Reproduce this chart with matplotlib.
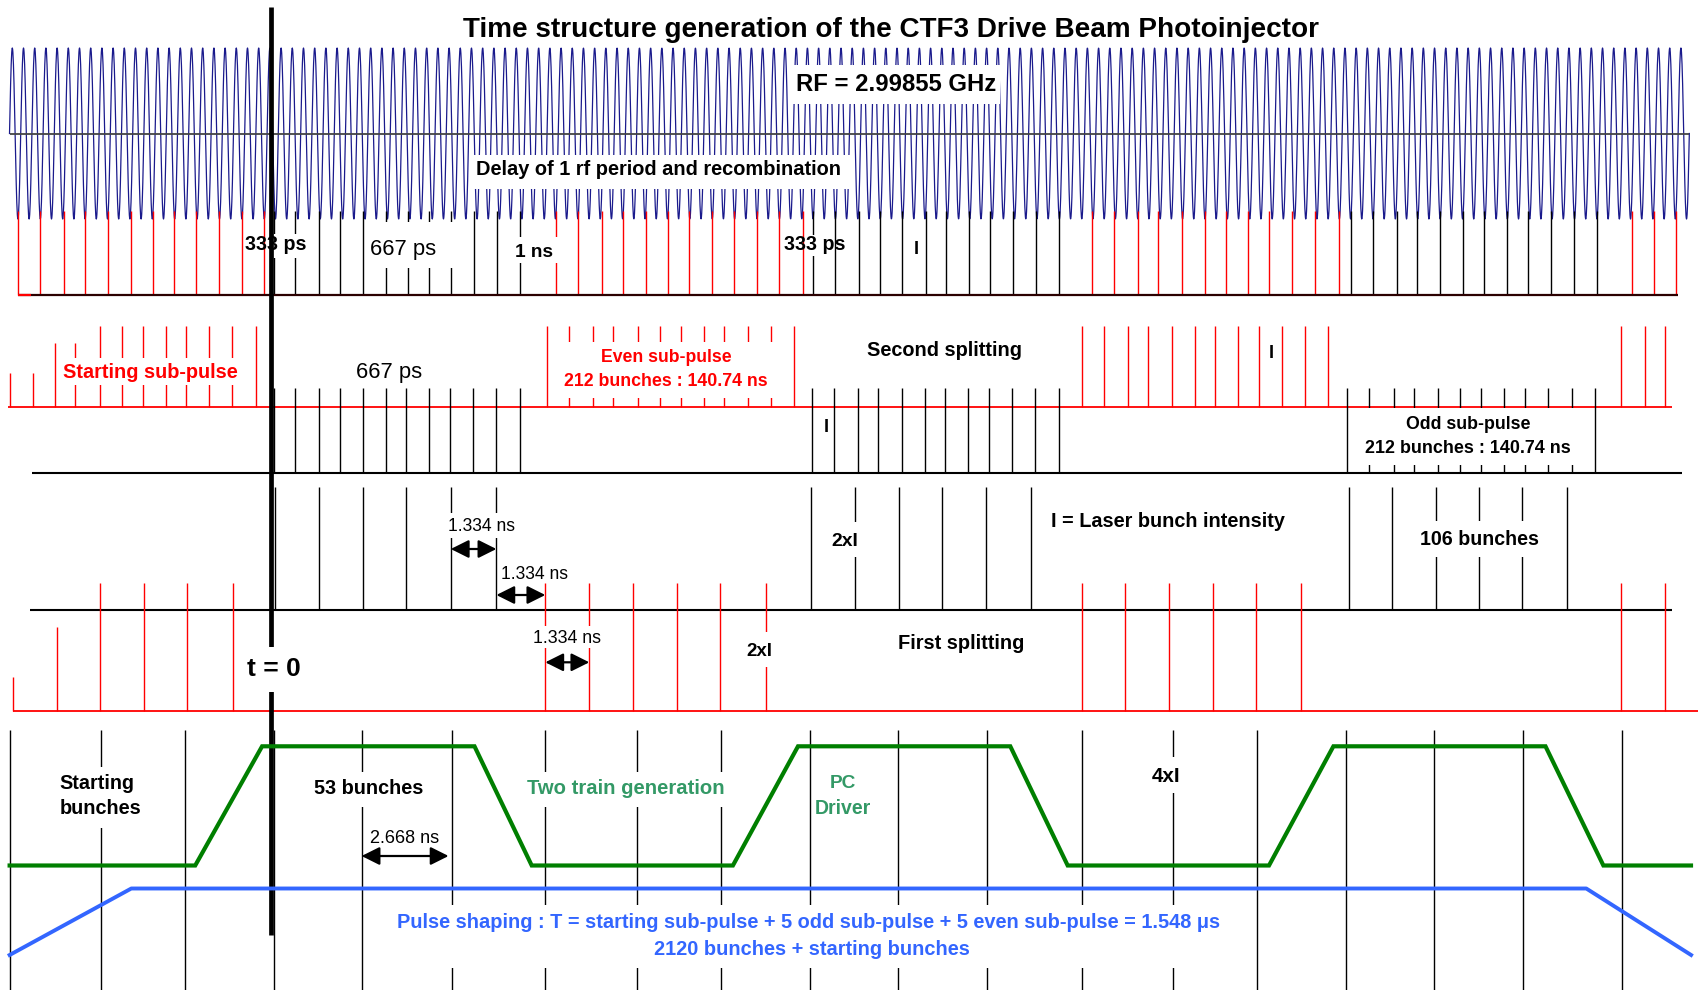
import numpy as np
import matplotlib
matplotlib.use("Agg")
import matplotlib.pyplot as plt
from matplotlib.patches import Rectangle

# ---------------------------------------------------------------- data ------
# all times in ns, t = 0 at the thick marker line
RF_FREQ_GHZ = 2.99855
RF_PERIODS_SHOWN = 150
RF_START_NS = -7.787

# row 1 : after delay of 1 rf period and recombination
R1_RED = [
    [-7.537, -6.873, -6.167, -5.551, -4.845, -4.160, -3.523, -2.886, -2.236, -1.552, -0.873, -0.200],
    [8.478, 9.139, 9.857, 10.473, 11.158, 11.828, 12.457, 13.142, 13.779, 14.461, 15.137, 15.828],
    [24.446, 25.110, 25.819, 26.414, 27.117, 27.811, 28.436, 29.095, 29.729, 30.411, 31.093, 31.796],
    [40.530, 41.200, 41.837],
]
R1_BLACK = [
    [0.089, 0.727, 1.444, 2.049, 2.734, 3.419, 4.068, 4.717, 5.354, 6.039, 6.721, 7.430],
    [16.135, 16.799, 17.516, 18.133, 18.803, 19.500, 20.113, 20.786, 21.414, 22.108, 22.781, 23.475],
    [32.150, 32.808, 33.523, 34.124, 34.818, 35.488, 36.135, 36.805, 37.442, 38.124, 38.806, 39.485],
]

# row 2 : second splitting (red = starting / even sub-pulses, black = odd)
R2_RED = [
    [-7.784, -7.079, -6.441, -5.837, -5.083, -4.434, -3.821, -3.136, -2.531, -1.837, -1.152, -0.459],
    [8.225, 8.877, 9.595, 10.188, 10.917, 11.590, 12.207, 12.889, 13.505, 14.199, 14.884, 15.581],
    [24.148, 24.800, 25.515, 26.108, 26.822, 27.504, 28.118, 28.788, 29.422, 30.116, 30.786, 31.480],
    [40.203, 40.905, 41.507],
]
R2_START_INTENSITY = [0.42, 0.42, 0.79, 0.79, 1, 1, 1, 1, 1, 1, 1, 1]
R2_BLACK = [
    [0.077, 0.727, 1.444, 2.049, 2.734, 3.419, 4.032, 4.717, 5.342, 6.027, 6.709, 7.406],
    [16.114, 16.775, 17.481, 18.085, 18.791, 19.464, 20.069, 20.753, 21.379, 22.076, 22.746, 23.455],
    [32.046, 32.707, 33.434, 34.035, 34.750, 35.408, 36.034, 36.727, 37.349, 38.043, 38.737, 39.440],
]

# row 3 : 2xI bunches (black)
R3_BLACK = [
    [0.113, 1.423, 2.734, 4.032, 5.354, 6.712],
    [16.093, 17.391, 18.690, 19.979, 21.290, 22.621],
    [32.102, 33.386, 34.681, 35.965, 37.260, 38.588],
]
# row 4 : first splitting (red)
R4_RED = [
    [-7.695, -6.385, -5.083, -3.785, -2.487, -1.141],
    [8.169, 9.479, 10.786, 12.082, 13.380, 14.729],
    [24.148, 25.444, 26.754, 28.038, 29.345, 30.685],
    [40.203, 41.501],
]
R4_START_INTENSITY = [0.27, 0.66, 1, 1, 1, 1]

# bottom : 4xI starting bunches, 2.668 ns spacing
BOTTOM_BUNCHES = [-7.784, -5.074, -2.567, 0.077, 2.698, 5.378, 8.169, 10.896, 13.392,
                  16.057, 18.677, 21.334, 24.148, 26.867, 29.366, 32.013, 34.625,
                  37.272, 40.247]

# PC driver (two train generation) : level 0 = low, 1 = high
PC_T = [-7.784, -2.257, -0.265, 6.060, 7.764, 13.755, 15.694, 22.016, 23.725,
        29.720, 31.638, 37.954, 39.678, 42.287]
PC_LEVEL = [0, 0, 1, 1, 0, 0, 1, 1, 0, 0, 1, 1, 0, 0]

# Pulse shaping envelope
PS_T = [-7.784, -4.160, 39.168, 42.290]
PS_LEVEL = [0, 1, 1, 0]

# ------------------------------------------------------------- layout -------
W, H = 1698, 990
X0_PX, PX_PER_NS = 271.0, 33.58
FONT = ['Liberation Sans', 'DejaVu Sans']
RED = '#ff0000'
GREEN_TXT = '#339966'
BLUE = '#3366ff'


def X(px):
    return (px - X0_PX) / PX_PER_NS


fig = plt.figure(figsize=(W / 100, H / 100), dpi=100)
ax = fig.add_axes([0, 0, 1, 1])
ax.set_xlim(X(0), X(W))
ax.set_ylim(H, 0)
ax.axis('off')


def hline(x0, x1, y, color, lw, z):
    ax.plot([X(x0), X(x1)], [y, y], color=color, lw=lw, zorder=z,
            solid_capstyle='butt')


def mask(x0, x1, y0, y1, z=5):
    ax.add_patch(Rectangle((X(x0), y0), X(x1) - X(x0), y1 - y0,
                           facecolor='white', edgecolor='none', zorder=z))


def comb(groups, y_base, y_top, color, z, lw=1.0):
    for g in groups:
        ax.vlines(g, y_top, y_base, colors=color, lw=lw, zorder=z)


# ---- RF wave
t_rf = np.linspace(RF_START_NS, RF_START_NS + RF_PERIODS_SHOWN / RF_FREQ_GHZ, 6000)
ax.plot(t_rf, 133.5 - 85.5 * np.sin(2 * np.pi * RF_FREQ_GHZ * (t_rf - RF_START_NS)),
        color='#1a1a8c', lw=0.9, zorder=1)
hline(9.5, 1689, 133.5, '#444444', 1.3, 1.2)
mask(793, 1000, 65, 103.5)
mask(471, 850, 154.5, 189)

# ---- row 1
comb(R1_BLACK, 295, 211, 'black', 1)
comb(R1_RED, 295, 211, RED, 3)
hline(18, 1678, 295, '#2b0000', 1.6, 3.5)
hline(18, 30.6, 295, RED, 1.6, 3.6)
mask(245, 306, 233.5, 258, z=2)
mask(783, 825, 234.5, 256, z=2)
mask(365, 455, 222, 268)
mask(508, 560, 237, 263)

# ---- row 2
tops2 = [407.3 - 81 * np.array(R2_START_INTENSITY)] + [326] * 3
for g, tp in zip(R2_RED, tops2):
    ax.vlines(g, tp, 407.3, colors=RED, lw=1.0, zorder=3)
hline(8.4, 1672, 407.3, RED, 1.3, 3)
comb(R2_BLACK, 472.7, 388, 'black', 3)
hline(32.5, 1681.6, 472.7, 'black', 1.5, 3)
mask(60, 240, 358.3, 385)
mask(555, 785, 342, 398)
mask(1350, 1593, 408.3, 465)

# ---- row 3
comb(R3_BLACK, 610, 487, 'black', 3)
hline(29.8, 1672, 610, 'black', 1.5, 3)
mask(445, 518, 513, 538)
mask(831, 859, 522, 557)
mask(1417, 1542, 521, 557)

# ---- row 4
tops4 = [711 - 127.7 * np.array(R4_START_INTENSITY)] + [583.3] * 3
for g, tp in zip(R4_RED, tops4):
    ax.vlines(g, tp, 711, colors=RED, lw=1.0, zorder=3)
hline(12.6, 1698, 711, RED, 1.3, 3)
mask(532, 603, 626, 648)
mask(746, 772, 632, 667)

# ---- bottom
ax.vlines(BOTTOM_BUNCHES, 730, 990, colors='black', lw=1.0, zorder=3)
mask(58, 142, 767, 828)
mask(313, 423, 772, 807)
mask(526, 725, 772, 807)
mask(1150, 1182, 757, 793)
mask(396, 1222, 905, 968)
ax.plot(PC_T, 865.5 - 119.2 * np.array(PC_LEVEL), color='#007f00', lw=3.0,
        zorder=6, solid_joinstyle='miter')
ax.plot(PS_T, 955 - 66.5 * np.array(PS_LEVEL), color=BLUE, lw=2.8, zorder=6)

# ---- t = 0 marker
ax.vlines([0], 6.7, 935, colors='black', lw=3.4, zorder=4)
mask(250, 297, 647, 692, z=5)

# ---- arrows
def darrow(t0, t1, y):
    ax.annotate('', xy=(t1, y), xytext=(t0, y),
                arrowprops=dict(arrowstyle='<|-|>,head_length=1.0,head_width=0.5',
                                mutation_scale=11, lw=1.6, color='black',
                                shrinkA=0, shrinkB=0), zorder=9)


darrow(R3_BLACK[0][4], R3_BLACK[0][5], 549)
darrow(R3_BLACK[0][5], R4_RED[1][0], 595)
darrow(R4_RED[1][0], R4_RED[1][1], 662.3)
darrow(BOTTOM_BUNCHES[4], BOTTOM_BUNCHES[5] - 0.09, 856)

# ---- texts
texts = []


def label(xpx, y, s, w=None, color='black', weight='bold', ha='center', fs=13):
    t = ax.text(X(xpx), y, s, color=color, fontweight=weight, ha=ha,
                va='baseline', fontsize=fs, family=FONT, zorder=10)
    texts.append((t, w, y))


label(891, 27, 'Time structure generation of the CTF3 Drive Beam Photoinjector', 852)
label(896, 82, 'RF = 2.99855 GHz', 199)
label(658.6, 168.3, 'Delay of 1 rf period and recombination', 364)
label(275.5, 243.3, '333 ps', 61)
label(403.4, 247, '667 ps', 66, weight='normal')
label(533.8, 250, '1 ns', 38)
label(814.8, 243.3, '333 ps', 61)
label(915.8, 247, 'I', fs=13)
label(150.2, 371.2, 'Starting sub-pulse', 174, color=RED)
label(388.8, 370, '667 ps', 66, weight='normal')
label(666.7, 356, 'Even sub-pulse', 130, color=RED)
label(666.3, 379.2, '212 bunches : 140.74 ns', 203.6, color=RED)
label(944.2, 349, 'Second splitting', 154.6)
label(826.3, 425.8, 'I', fs=13)
label(1271.6, 351.3, 'I', fs=13)
label(1468, 423, 'Odd sub-pulse', 123.6)
label(1467.5, 446.2, '212 bunches : 140.74 ns', 204.8)
label(481.2, 525, '1.334 ns', 67, weight='normal')
label(534.8, 572.3, '1.334 ns', 67, weight='normal')
label(567, 636.7, '1.334 ns', 67.8, weight='normal')
label(844.7, 539.2, '2xI', 26.8)
label(1167.7, 519.7, 'I = Laser bunch intensity', 233)
label(1479, 537.5, '106 bunches', 119)
label(759, 649.2, '2xI', 26)
label(961.4, 641.7, 'First splitting', 126.3)
label(273.6, 666.7, 't = 0', 53.6)
label(59.3, 781.5, 'Starting', 74.6, ha='left')
label(59.3, 807, 'bunches', 81.5, ha='left')
label(368.3, 787.2, '53 bunches', 109)
label(404.9, 836.2, '2.668 ns', 69, weight='normal')
label(625.7, 787, 'Two train generation', 196.8, color=GREEN_TXT)
label(842.8, 781.5, 'PC', 26.7, color=GREEN_TXT)
label(843.3, 807, 'Driver', 56.3, color=GREEN_TXT)
label(1165.8, 774.2, '4xI', 28.6)
label(808.7, 920.8,
      'Pulse shaping : T = starting sub-pulse + 5 odd sub-pulse + 5 even sub-pulse = 1.548 \u03bcs',
      825, color=BLUE)
label(811.6, 948.3, '2120 bunches + starting bunches', 315, color=BLUE)

fig.canvas.draw()
renderer = fig.canvas.get_renderer()
for t, w, y in texts:
    if w is not None:
        bb = t.get_window_extent(renderer)
        t.set_fontsize(t.get_fontsize() * w / bb.width)
    fs = t.get_fontsize()
    t.set_y(y + 0.36 * fs * 100 / 72)

fig.savefig('out.png', dpi=100, facecolor='white')
